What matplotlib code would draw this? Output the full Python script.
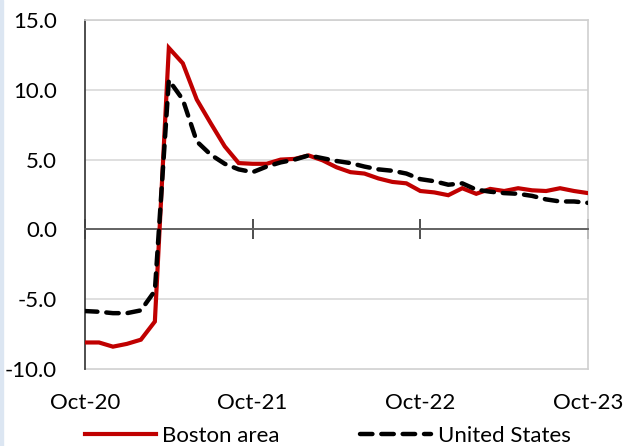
import matplotlib
matplotlib.use("Agg")
import matplotlib.pyplot as plt
import matplotlib.patches as mpatches
import numpy as np
import pandas as pd

# Monthly year-over-year change, Oct 2020 - Oct 2023
months = pd.date_range("2020-10-01", "2023-10-01", freq="MS")
boston = [-8.1, -8.1, -8.4, -8.2, -7.9, -6.6, 13.0, 11.9, 9.3, 7.6, 5.95, 4.75,
          4.7, 4.7, 5.0, 5.05, 5.3, 4.95, 4.45, 4.1, 4.0, 3.65, 3.4, 3.3,
          2.75, 2.65, 2.45, 2.95, 2.55, 2.9, 2.75, 2.95, 2.8, 2.75, 2.95, 2.75, 2.6]
united_states = [-5.85, -5.9, -6.0, -6.0, -5.8, -4.4, 10.7, 9.3, 6.3, 5.35, 4.7, 4.3,
                 4.1, 4.5, 4.8, 5.0, 5.3, 5.1, 4.9, 4.75, 4.5, 4.3, 4.2, 4.0,
                 3.6, 3.45, 3.2, 3.3, 2.85, 2.7, 2.6, 2.55, 2.4, 2.15, 2.0, 2.0, 1.9]
tick_labels = ["Oct-20", "Oct-21", "Oct-22", "Oct-23"]
y_ticks = [-10, -5, 0, 5, 10, 15]

plt.rcParams["font.family"] = ["Lato", "DejaVu Sans"]
FS = 16

fig = plt.figure(figsize=(6.24, 4.46), dpi=100)
ax = fig.add_axes([85 / 624, 1 - 369 / 446, 503 / 624, 349 / 446])

x = np.arange(len(months))
ax.plot(x, boston, color="#C00000", lw=3.0, solid_joinstyle="miter",
        label="Boston area", zorder=3)
ax.plot(x, united_states, color="black", lw=3.2, dashes=(2.8, 2.0),
        dash_capstyle="round", label="United States", zorder=4)

ax.set_xlim(0, len(months) - 1)
ax.set_ylim(-10, 15)
ax.set_yticks(y_ticks)
ax.set_yticklabels([f"{v:.1f}" for v in y_ticks], fontsize=FS)
ax.tick_params(axis="y", length=0, pad=20)
ax.grid(axis="y", color="#D9D9D9", lw=1.2, zorder=0)

# Zero line acts as the category axis, with ticks crossing it
ax.spines["bottom"].set_position(("data", 0))
ax.spines["bottom"].set_color("#595959")
ax.spines["bottom"].set_linewidth(1.3)
year_ticks = x[::12]
ax.set_xticks(year_ticks)
ax.tick_params(axis="x", direction="inout", length=15, width=1.3,
               color="#404040", labelbottom=False)

for side in ("top", "right"):
    ax.spines[side].set_color("#D0D0D0")
    ax.spines[side].set_linewidth(1.2)
ax.spines["left"].set_color("#404040")
ax.spines["left"].set_linewidth(1.3)

# Date labels along the bottom edge of the plot area
sec = ax.secondary_xaxis("bottom")
sec.set_xticks(year_ticks)
sec.set_xticklabels(tick_labels, fontsize=FS)
sec.tick_params(length=0, pad=17)
sec.spines["bottom"].set_color("#D0D0D0")
sec.spines["bottom"].set_linewidth(1.2)

fig.legend(loc="center", bbox_to_anchor=(0.525, 1 - 436 / 446), ncol=2,
           frameon=False, fontsize=FS, handlelength=3.2, handletextpad=0.3,
           columnspacing=3.6)

# Thin tinted strip on the left edge of the canvas
fig.patches.append(mpatches.Rectangle((0, 0), 3 / 624, 1, transform=fig.transFigure,
                                      color="#DCE6F2", zorder=0))

fig.savefig("out.png", dpi=100)
